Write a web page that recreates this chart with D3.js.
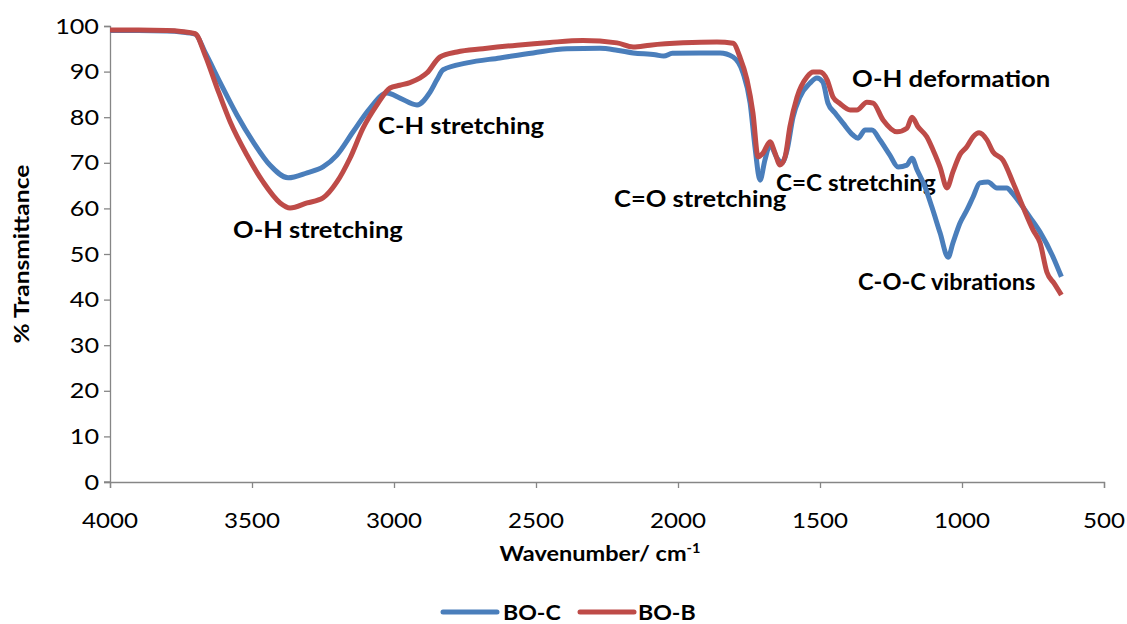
<!DOCTYPE html>
<html>
<head>
<meta charset="utf-8">
<script src="https://cdn.jsdelivr.net/npm/d3@7"></script>
<style>
  html, body { margin: 0; padding: 0; background: #fff; }
  svg { display: block; }
  text { font-family: Lato, "Open Sans", sans-serif; fill: #000; }
</style>
</head>
<body>
<svg id="chart" width="1127" height="624"></svg>
<script>
// FTIR spectra: wavenumber (cm-1) and % transmittance
const wnC = [4000,3900,3800,3750,3700,3665,3613,3553,3496,3437,3373,3306,3250,3201,3144,3084,3025,2979,2919,2873,2849,2827,2743,2627,2510,2391,2275,2215,2158,2080,2050,2020,1922,1852,1806,1771,1746,1729,1711,1694,1676,1651,1634,1616,1595,1571,1535,1511,1490,1472,1447,1419,1384,1366,1341,1317,1289,1254,1225,1194,1176,1158,1130,1106,1077,1049,1032,1007,983,961,937,909,877,842,824,796,761,725,679,650];
const tC  = [99.0,99.0,98.9,98.7,98.2,94.2,87.7,80.5,74.6,69.5,66.7,67.8,69.1,71.7,76.8,82.0,85.3,84.2,82.7,85.5,88.2,90.4,91.9,93.0,94.1,95.0,95.1,94.7,94.1,93.7,93.4,94.0,94.1,94.1,93.2,89.7,83.1,73.5,66.2,70.6,73.9,71.0,70.0,72.8,80.0,84.4,87.5,88.6,87.7,83.1,80.9,78.7,76.1,75.4,77.2,77.2,75.0,71.7,69.1,69.5,71.0,68.4,64.7,60.3,54.6,49.3,52.4,56.8,59.6,62.5,65.6,65.8,64.5,64.5,63.4,61.2,58.1,54.8,49.3,45.0];

const wnB = [4000,3900,3800,3750,3700,3665,3623,3577,3518,3461,3401,3366,3306,3250,3201,3155,3109,3060,3014,2980,2944,2908,2884,2838,2778,2687,2567,2451,2335,2215,2158,2099,1982,1863,1806,1782,1757,1736,1718,1701,1676,1658,1641,1623,1606,1581,1546,1524,1500,1475,1454,1430,1394,1370,1335,1313,1278,1229,1194,1176,1155,1124,1102,1077,1053,1032,1007,983,961,940,912,891,856,820,785,750,725,701,675,650];
const tB  = [99.1,99.1,99.0,98.8,98.3,93.6,86.4,79.0,71.7,65.8,61.2,60.1,61.2,62.3,65.8,71.0,77.6,82.7,86.4,87.0,87.6,88.6,89.7,93.2,94.3,95.0,95.8,96.4,96.8,96.3,95.4,95.8,96.3,96.5,96.2,93.2,88.2,80.9,71.3,72.1,74.6,72.1,69.5,71.3,77.9,84.4,88.8,89.9,89.9,88.2,84.4,83.0,81.6,81.6,83.3,83.1,79.4,76.8,77.6,80.0,77.9,75.7,72.8,69.0,64.5,68.0,71.8,73.5,75.7,76.6,75.0,72.4,70.6,65.6,60.3,55.3,52.4,46.0,43.5,41.0];

const seriesNames = ["BO-C", "BO-B"];
const seriesColors = ["#4A7EBB", "#BE4B48"];

const xTicks = [4000,3500,3000,2500,2000,1500,1000,500];
const yTicks = [0,10,20,30,40,50,60,70,80,90,100];

const annotations = [
  {text: "O-H stretching",   wn: 3268, t: 53.4, anchor: "middle", sx: 1.16},
  {text: "C-H stretching",   wn: 3056, t: 76.4, anchor: "start",  sx: 1.16},
  {text: "C=O stretching",   wn: 2225, t: 60.2, anchor: "start",  sx: 1.16},
  {text: "C=C stretching",   wn: 1655, t: 63.9, anchor: "start",  sx: 1.10},
  {text: "O-H deformation",  wn: 1387, t: 86.7, anchor: "start",  sx: 1.17},
  {text: "C-O-C vibrations", wn: 1366, t: 42.0, anchor: "start",  sx: 1.07}
];

const svg = d3.select("#chart");
const x = d3.scaleLinear().domain([4000, 500]).range([110, 1104]);
const y = d3.scaleLinear().domain([0, 100]).range([482, 26]);
const SX = 1.15; // horizontal text stretch

function stretchedText(g, str, px, py, opts) {
  return g.append("text")
    .attr("transform", `translate(${px},${py}) scale(${opts.sx || SX},1)`)
    .attr("text-anchor", opts.anchor || "start")
    .attr("font-size", opts.size)
    .attr("font-weight", opts.weight || "normal")
    .text(str);
}

// Axes
const axisColor = "#868686";
const yAxis = svg.append("g").attr("transform", "translate(110,0)")
  .call(d3.axisLeft(y).tickValues(yTicks).tickSize(6).tickFormat(""));
const xAxis = svg.append("g").attr("transform", "translate(0,482)")
  .call(d3.axisBottom(x).tickValues(xTicks).tickSize(6).tickFormat(""));
[yAxis, xAxis].forEach(a => {
  a.selectAll("path").attr("stroke", axisColor).attr("stroke-width", 1.3);
  a.selectAll("line").attr("stroke", axisColor).attr("stroke-width", 1.3);
});
svg.append("line").attr("x1", 104).attr("x2", 110).attr("y1", y(0)).attr("y2", y(0))
  .attr("stroke", axisColor).attr("stroke-width", 1.3);

const labels = svg.append("g");
yTicks.forEach(v => stretchedText(labels, String(v), 99, y(v) + 7.5, {size: 21, anchor: "end", sx: 1.2}));
xTicks.forEach(v => stretchedText(labels, String(v), x(v), 528, {size: 21, anchor: "middle"}));

// Axis titles
const xt = stretchedText(labels, "Wavenumber/ cm", 600, 561, {size: 21, anchor: "middle", weight: "bold", sx: 1.12});
xt.append("tspan").attr("dy", -8).attr("font-size", 13).text("-1");

svg.append("text")
  .attr("transform", "translate(29,254) rotate(-90) scale(1.17,1)")
  .attr("text-anchor", "middle").attr("font-size", 21).attr("font-weight", "bold")
  .text("% Transmittance");

// Spectra
const line = d3.line().x(d => x(d[0])).y(d => y(d[1])).curve(d3.curveMonotoneX);
const dataC = wnC.map((w, i) => [w, tC[i]]);
const dataB = wnB.map((w, i) => [w, tB[i]]);
[dataC, dataB].forEach((d, i) => {
  svg.append("path").datum(d)
    .attr("fill", "none")
    .attr("stroke", seriesColors[i])
    .attr("stroke-width", 5)
    .attr("stroke-linejoin", "round")
    .attr("d", line);
});

// Band annotations
annotations.forEach(a => {
  stretchedText(labels, a.text, x(a.wn), y(a.t), {size: 22, anchor: a.anchor, weight: "bold", sx: a.sx});
});

// Legend
const legend = svg.append("g");
const legendItems = [{x0: 443, tx: 503}, {x0: 580, tx: 638}];
seriesNames.forEach((name, i) => {
  legend.append("line")
    .attr("x1", legendItems[i].x0).attr("x2", legendItems[i].x0 + 54)
    .attr("y1", 612).attr("y2", 612)
    .attr("stroke", seriesColors[i]).attr("stroke-width", 5)
    .attr("stroke-linecap", "round");
  stretchedText(legend, name, legendItems[i].tx, 620, {size: 21, weight: "bold", sx: 1.1});
});
</script>
</body>
</html>
